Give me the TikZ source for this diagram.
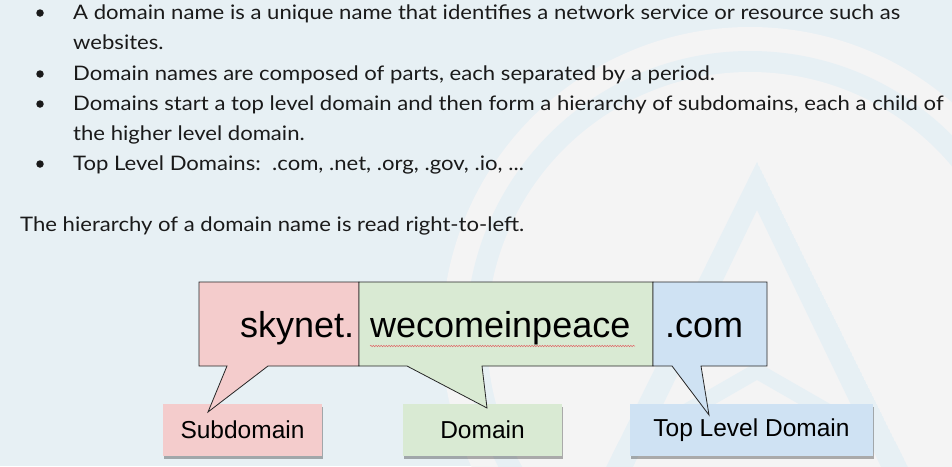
\documentclass[tikz,border=0pt]{standalone}
\usepackage{fontspec}
\setmainfont{Lato}[FakeStretch=1.105]
\newfontfamily\arialfont{Liberation Sans}
\usetikzlibrary{decorations.pathmorphing,shadows}
\definecolor{bgblue}{HTML}{E7F0F4}
\definecolor{bglight}{HTML}{F4F4F4}
\definecolor{pinkf}{HTML}{F4CCCC}
\definecolor{greenf}{HTML}{D9EAD3}
\definecolor{bluef}{HTML}{CFE2F3}
\definecolor{txt}{HTML}{1A1A1A}
\definecolor{wavy}{HTML}{E06666}
\begin{document}
\begin{tikzpicture}[x=1pt,y=-1pt,
  bodytext/.style={anchor=base west, inner sep=0pt, font=\fontsize{20}{24}\selectfont, text=txt},
  bulletdot/.style={circle, fill=txt, inner sep=0pt, minimum size=7.5pt},
  callout/.style={draw=black!85, line width=0.8pt, line join=miter},
  word/.style={anchor=base west, inner sep=0pt, font=\arialfont\fontsize{36}{40}\selectfont, text=black},
  labelbox/.style={minimum height=52pt, inner sep=0pt, font=\arialfont\fontsize{24.5}{28}\selectfont, text=black,
     drop shadow={shadow xshift=1pt, shadow yshift=-3pt, opacity=0.3, fill=black}},
]
\useasboundingbox (0,0) rectangle (952,466);
\clip (0,0) rectangle (952,466);
% background
\fill[bgblue] (0,0) rectangle (952,466);
\fill[bglight] (750,335) circle (308pt);
\fill[bgblue] (750,335) circle (284pt);
\fill[bglight] (750,335) circle (263pt);
% faint A logo
\begin{scope}
  \clip (757,162) -- (590,500) -- (924,500) -- cycle;
  \fill[bgblue, even odd rule] (757,162) -- (590,500) -- (924,500) -- cycle
       (757,210) -- (617,500) -- (897,500) -- cycle;
  \fill[bgblue] (560,475) -- (757,362) -- (954,475) -- (954,493) -- (757,380) -- (560,493) -- cycle;
\end{scope}
% bullet text
\node[bulletdot] (b1) at (40,13) {};
\node[bodytext] (t1) at (73,19) {A domain name is a unique name that identifies a network service or resource such as};
\node[bodytext] (t2) at (73,49) {websites.};
\node[bulletdot] (b3) at (40,74) {};
\node[bodytext] (t3) at (73,80) {Domain names are composed of parts, each separated by a period.};
\node[bulletdot] (b4) at (40,104) {};
\node[bodytext] (t4) at (73,110) {Domains start a top level domain and then form a hierarchy of subdomains, each a child of};
\node[bodytext] (t5) at (73,140) {the higher level domain.};
\node[bulletdot] (b6) at (40,164) {};
\node[bodytext] (t6) at (73,170) {Top Level Domains:\ \ .com, .net, .org, .gov, .io, ...};
\node[bodytext] (t7) at (20,231) {The hierarchy of a domain name is read right-to-left.};
% label boxes
\node[labelbox, fill=pinkf, minimum width=159pt] (sub) at (242.5,430) {Subdomain};
\node[labelbox, fill=greenf, minimum width=159pt] (dom) at (482.5,430) {Domain};
\node[labelbox, fill=bluef, minimum width=243pt] (tld) at (751.5,430) {Top Level Domain};
% callouts
\draw[callout, fill=pinkf] (199,282) -- (359,282) -- (359,366) -- (268,366) -- (208,412) -- (227,366) -- (199,366) -- cycle;
\draw[callout, fill=greenf] (359,282) -- (653,282) -- (653,366) -- (482,366) -- (487,408) -- (407,366) -- (359,366) -- cycle;
\draw[callout, fill=bluef] (653,282) -- (767,282) -- (767,366) -- (701,366) -- (709,415) -- (672,366) -- (653,366) -- cycle;
% words
\node[word] (w1) at (240,337) {skynet.};
\node[word] (w2) at (370,337) {wecomeinpeace};
\node[word] (w3) at (665,337) {.com};
\coordinate (u1) at (370,346);
\coordinate (u2) at (635,346);
\draw[wavy, line width=0.5pt, decorate, decoration={snake, amplitude=0.7pt, segment length=2.6pt}] (u1) -- (u2);
\end{tikzpicture}
\end{document}
